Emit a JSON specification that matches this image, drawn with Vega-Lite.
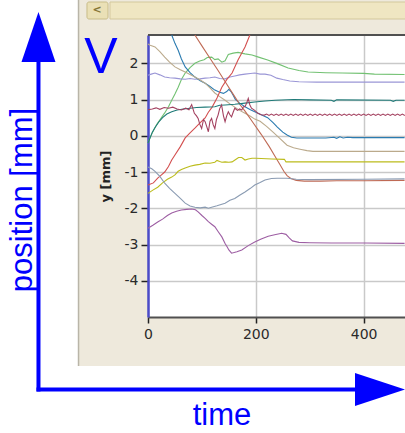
{
  "$schema": "https://vega.github.io/schema/vega-lite/v6.json",
  "autosize": "none",
  "width": 257,
  "height": 282,
  "padding": {"left": 148, "top": 35, "right": 0, "bottom": 116},
  "background": "#EEE9DC",
  "view": {"fill": "white", "stroke": null},
  "datasets": {
    "series": [
      {"s":"green","x":0,"y":-0.2},{"s":"green","x":4,"y":-0.05},{"s":"green","x":8,"y":0.08},{"s":"green","x":12,"y":0.2},{"s":"green","x":17,"y":0.33},{"s":"green","x":24,"y":0.48},{"s":"green","x":31,"y":0.63},{"s":"green","x":38,"y":0.8},{"s":"green","x":44,"y":0.98},{"s":"green","x":50,"y":1.15},{"s":"green","x":56,"y":1.34},{"s":"green","x":62,"y":1.55},{"s":"green","x":69,"y":1.73},{"s":"green","x":78,"y":1.88},{"s":"green","x":87,"y":2.0},{"s":"green","x":96,"y":2.06},{"s":"green","x":104,"y":2.1},{"s":"green","x":110,"y":2.16},{"s":"green","x":118,"y":2.17},{"s":"green","x":124,"y":2.1},{"s":"green","x":130,"y":2.12},{"s":"green","x":137,"y":2.03},{"s":"green","x":143,"y":2.07},{"s":"green","x":149,"y":2.24},{"s":"green","x":158,"y":2.28},{"s":"green","x":167,"y":2.3},{"s":"green","x":180,"y":2.26},{"s":"green","x":193,"y":2.23},{"s":"green","x":205,"y":2.17},{"s":"green","x":222,"y":2.09},{"s":"green","x":240,"y":1.99},{"s":"green","x":260,"y":1.87},{"s":"green","x":280,"y":1.8},{"s":"green","x":297,"y":1.76},{"s":"green","x":330,"y":1.74},{"s":"green","x":360,"y":1.73},{"s":"green","x":400,"y":1.72},{"s":"green","x":420,"y":1.7},{"s":"green","x":476,"y":1.69},
      {"s":"lavender","x":0,"y":1.67},{"s":"lavender","x":6,"y":1.7},{"s":"lavender","x":13,"y":1.73},{"s":"lavender","x":22,"y":1.68},{"s":"lavender","x":31,"y":1.62},{"s":"lavender","x":40,"y":1.6},{"s":"lavender","x":50,"y":1.59},{"s":"lavender","x":60,"y":1.57},{"s":"lavender","x":69,"y":1.56},{"s":"lavender","x":78,"y":1.58},{"s":"lavender","x":87,"y":1.56},{"s":"lavender","x":96,"y":1.57},{"s":"lavender","x":106,"y":1.59},{"s":"lavender","x":115,"y":1.6},{"s":"lavender","x":124,"y":1.62},{"s":"lavender","x":133,"y":1.58},{"s":"lavender","x":143,"y":1.57},{"s":"lavender","x":152,"y":1.62},{"s":"lavender","x":161,"y":1.65},{"s":"lavender","x":170,"y":1.68},{"s":"lavender","x":180,"y":1.7},{"s":"lavender","x":190,"y":1.72},{"s":"lavender","x":198,"y":1.73},{"s":"lavender","x":208,"y":1.7},{"s":"lavender","x":217,"y":1.7},{"s":"lavender","x":228,"y":1.67},{"s":"lavender","x":239,"y":1.59},{"s":"lavender","x":250,"y":1.55},{"s":"lavender","x":263,"y":1.51},{"s":"lavender","x":280,"y":1.49},{"s":"lavender","x":313,"y":1.48},{"s":"lavender","x":400,"y":1.48},{"s":"lavender","x":476,"y":1.48},
      {"s":"blue","x":44,"y":2.78},{"s":"blue","x":50,"y":2.55},{"s":"blue","x":56,"y":2.36},{"s":"blue","x":62,"y":2.12},{"s":"blue","x":69,"y":1.9},{"s":"blue","x":78,"y":1.74},{"s":"blue","x":87,"y":1.62},{"s":"blue","x":97,"y":1.52},{"s":"blue","x":106,"y":1.45},{"s":"blue","x":115,"y":1.36},{"s":"blue","x":124,"y":1.26},{"s":"blue","x":133,"y":1.2},{"s":"blue","x":140,"y":1.17},{"s":"blue","x":146,"y":1.22},{"s":"blue","x":150,"y":1.28},{"s":"blue","x":154,"y":1.22},{"s":"blue","x":158,"y":1.12},{"s":"blue","x":162,"y":1.0},{"s":"blue","x":170,"y":0.9},{"s":"blue","x":180,"y":0.8},{"s":"blue","x":190,"y":0.72},{"s":"blue","x":198,"y":0.66},{"s":"blue","x":210,"y":0.58},{"s":"blue","x":222,"y":0.5},{"s":"blue","x":232,"y":0.36},{"s":"blue","x":240,"y":0.24},{"s":"blue","x":250,"y":0.1},{"s":"blue","x":258,"y":0.02},{"s":"blue","x":266,"y":-0.04},{"s":"blue","x":276,"y":-0.06},{"s":"blue","x":330,"y":-0.06},{"s":"blue","x":345,"y":-0.04},{"s":"blue","x":350,"y":-0.07},{"s":"blue","x":356,"y":-0.03},{"s":"blue","x":362,"y":-0.06},{"s":"blue","x":370,"y":-0.04},{"s":"blue","x":380,"y":-0.05},{"s":"blue","x":476,"y":-0.05},
      {"s":"tan","x":0,"y":2.53},{"s":"tan","x":4,"y":2.5},{"s":"tan","x":13,"y":2.45},{"s":"tan","x":22,"y":2.32},{"s":"tan","x":31,"y":2.17},{"s":"tan","x":40,"y":2.03},{"s":"tan","x":50,"y":1.9},{"s":"tan","x":60,"y":1.82},{"s":"tan","x":69,"y":1.76},{"s":"tan","x":78,"y":1.69},{"s":"tan","x":87,"y":1.62},{"s":"tan","x":97,"y":1.54},{"s":"tan","x":106,"y":1.45},{"s":"tan","x":115,"y":1.32},{"s":"tan","x":124,"y":1.18},{"s":"tan","x":133,"y":1.08},{"s":"tan","x":143,"y":0.98},{"s":"tan","x":152,"y":0.88},{"s":"tan","x":161,"y":0.79},{"s":"tan","x":170,"y":0.7},{"s":"tan","x":180,"y":0.62},{"s":"tan","x":190,"y":0.54},{"s":"tan","x":198,"y":0.46},{"s":"tan","x":208,"y":0.4},{"s":"tan","x":220,"y":0.26},{"s":"tan","x":232,"y":0.1},{"s":"tan","x":245,"y":-0.08},{"s":"tan","x":258,"y":-0.26},{"s":"tan","x":270,"y":-0.33},{"s":"tan","x":282,"y":-0.37},{"s":"tan","x":295,"y":-0.41},{"s":"tan","x":306,"y":-0.43},{"s":"tan","x":476,"y":-0.43},
      {"s":"sienna","x":87,"y":2.78},{"s":"sienna","x":100,"y":2.48},{"s":"sienna","x":115,"y":2.14},{"s":"sienna","x":130,"y":1.8},{"s":"sienna","x":145,"y":1.45},{"s":"sienna","x":160,"y":1.1},{"s":"sienna","x":170,"y":0.87},{"s":"sienna","x":180,"y":0.68},{"s":"sienna","x":195,"y":0.36},{"s":"sienna","x":210,"y":0.04},{"s":"sienna","x":225,"y":-0.3},{"s":"sienna","x":235,"y":-0.55},{"s":"sienna","x":245,"y":-0.8},{"s":"sienna","x":252,"y":-0.98},{"s":"sienna","x":258,"y":-1.1},{"s":"sienna","x":265,"y":-1.18},{"s":"sienna","x":275,"y":-1.23},{"s":"sienna","x":290,"y":-1.25},{"s":"sienna","x":320,"y":-1.25},{"s":"sienna","x":350,"y":-1.24},{"s":"sienna","x":400,"y":-1.24},{"s":"sienna","x":476,"y":-1.23},
      {"s":"red","x":0,"y":-1.36},{"s":"red","x":10,"y":-1.3},{"s":"red","x":18,"y":-1.17},{"s":"red","x":25,"y":-1.08},{"s":"red","x":31,"y":-1.0},{"s":"red","x":38,"y":-0.85},{"s":"red","x":44,"y":-0.67},{"s":"red","x":50,"y":-0.53},{"s":"red","x":60,"y":-0.3},{"s":"red","x":69,"y":-0.06},{"s":"red","x":78,"y":0.08},{"s":"red","x":87,"y":0.21},{"s":"red","x":96,"y":0.35},{"s":"red","x":106,"y":0.49},{"s":"red","x":112,"y":0.65},{"s":"red","x":119,"y":0.79},{"s":"red","x":128,"y":1.04},{"s":"red","x":137,"y":1.34},{"s":"red","x":146,"y":1.55},{"s":"red","x":156,"y":1.73},{"s":"red","x":167,"y":2.09},{"s":"red","x":180,"y":2.45},{"s":"red","x":189,"y":2.78},
      {"s":"teal","x":0,"y":-0.2},{"s":"teal","x":4,"y":-0.05},{"s":"teal","x":8,"y":0.1},{"s":"teal","x":14,"y":0.25},{"s":"teal","x":20,"y":0.38},{"s":"teal","x":27,"y":0.5},{"s":"teal","x":35,"y":0.6},{"s":"teal","x":44,"y":0.66},{"s":"teal","x":54,"y":0.71},{"s":"teal","x":66,"y":0.74},{"s":"teal","x":78,"y":0.76},{"s":"teal","x":90,"y":0.78},{"s":"teal","x":106,"y":0.79},{"s":"teal","x":124,"y":0.8},{"s":"teal","x":133,"y":0.84},{"s":"teal","x":143,"y":0.85},{"s":"teal","x":161,"y":0.87},{"s":"teal","x":180,"y":0.9},{"s":"teal","x":198,"y":0.93},{"s":"teal","x":217,"y":0.96},{"s":"teal","x":236,"y":0.98},{"s":"teal","x":270,"y":1.0},{"s":"teal","x":300,"y":0.99},{"s":"teal","x":340,"y":0.98},{"s":"teal","x":345,"y":0.95},{"s":"teal","x":350,"y":0.99},{"s":"teal","x":450,"y":0.98},{"s":"teal","x":455,"y":0.95},{"s":"teal","x":460,"y":0.98},{"s":"teal","x":476,"y":0.98},
      {"s":"maroon","x":0,"y":0.72},{"s":"maroon","x":8,"y":0.74},{"s":"maroon","x":15,"y":0.77},{"s":"maroon","x":22,"y":0.73},{"s":"maroon","x":30,"y":0.78},{"s":"maroon","x":38,"y":0.76},{"s":"maroon","x":46,"y":0.79},{"s":"maroon","x":54,"y":0.74},{"s":"maroon","x":62,"y":0.71},{"s":"maroon","x":70,"y":0.76},{"s":"maroon","x":76,"y":0.72},{"s":"maroon","x":81,"y":0.86},{"s":"maroon","x":86,"y":0.62},{"s":"maroon","x":90,"y":0.55},{"s":"maroon","x":93,"y":0.48},{"s":"maroon","x":96,"y":0.32},{"s":"maroon","x":99.5,"y":0.2},{"s":"maroon","x":103,"y":0.45},{"s":"maroon","x":106,"y":0.39},{"s":"maroon","x":109,"y":0.25},{"s":"maroon","x":112,"y":0.11},{"s":"maroon","x":115,"y":0.4},{"s":"maroon","x":118,"y":0.48},{"s":"maroon","x":121,"y":0.3},{"s":"maroon","x":124,"y":0.2},{"s":"maroon","x":127,"y":0.45},{"s":"maroon","x":130,"y":0.57},{"s":"maroon","x":133,"y":0.75},{"s":"maroon","x":136.5,"y":0.85},{"s":"maroon","x":140,"y":0.55},{"s":"maroon","x":143,"y":0.39},{"s":"maroon","x":146,"y":0.55},{"s":"maroon","x":149,"y":0.66},{"s":"maroon","x":152,"y":0.58},{"s":"maroon","x":155,"y":0.52},{"s":"maroon","x":158,"y":0.65},{"s":"maroon","x":161,"y":0.76},{"s":"maroon","x":166,"y":0.7},{"s":"maroon","x":170,"y":0.74},{"s":"maroon","x":174,"y":0.71},{"s":"maroon","x":177,"y":0.8},{"s":"maroon","x":180,"y":0.8},{"s":"maroon","x":183,"y":0.9},{"s":"maroon","x":186,"y":1.03},{"s":"maroon","x":189,"y":0.85},{"s":"maroon","x":192,"y":0.76},{"s":"maroon","x":198,"y":0.7},{"s":"maroon","x":204,"y":0.62},{"s":"maroon","x":210,"y":0.58},{"s":"maroon","x":216,"y":0.57},
      {"s":"maroon","x":220,"y":0.6},{"s":"maroon","x":224.5,"y":0.56},{"s":"maroon","x":229,"y":0.6},{"s":"maroon","x":233.5,"y":0.56},{"s":"maroon","x":238,"y":0.6},{"s":"maroon","x":242.5,"y":0.56},{"s":"maroon","x":247,"y":0.6},{"s":"maroon","x":251.5,"y":0.56},{"s":"maroon","x":256,"y":0.6},{"s":"maroon","x":260.5,"y":0.56},{"s":"maroon","x":265,"y":0.6},{"s":"maroon","x":269.5,"y":0.56},{"s":"maroon","x":274,"y":0.6},{"s":"maroon","x":278.5,"y":0.56},{"s":"maroon","x":283,"y":0.6},{"s":"maroon","x":287.5,"y":0.56},{"s":"maroon","x":292,"y":0.6},{"s":"maroon","x":296.5,"y":0.56},{"s":"maroon","x":301,"y":0.6},{"s":"maroon","x":305.5,"y":0.56},{"s":"maroon","x":310,"y":0.6},{"s":"maroon","x":314.5,"y":0.56},{"s":"maroon","x":319,"y":0.6},{"s":"maroon","x":323.5,"y":0.56},{"s":"maroon","x":328,"y":0.6},{"s":"maroon","x":332.5,"y":0.56},{"s":"maroon","x":337,"y":0.6},{"s":"maroon","x":341.5,"y":0.56},{"s":"maroon","x":346,"y":0.6},{"s":"maroon","x":350.5,"y":0.56},{"s":"maroon","x":355,"y":0.6},{"s":"maroon","x":359.5,"y":0.56},{"s":"maroon","x":364,"y":0.6},{"s":"maroon","x":368.5,"y":0.56},{"s":"maroon","x":373,"y":0.6},{"s":"maroon","x":377.5,"y":0.56},{"s":"maroon","x":382,"y":0.6},{"s":"maroon","x":386.5,"y":0.56},{"s":"maroon","x":391,"y":0.6},{"s":"maroon","x":395.5,"y":0.56},{"s":"maroon","x":400,"y":0.6},{"s":"maroon","x":404.5,"y":0.56},{"s":"maroon","x":409,"y":0.6},{"s":"maroon","x":413.5,"y":0.56},{"s":"maroon","x":418,"y":0.6},{"s":"maroon","x":422.5,"y":0.56},{"s":"maroon","x":427,"y":0.6},{"s":"maroon","x":431.5,"y":0.56},{"s":"maroon","x":436,"y":0.6},{"s":"maroon","x":440.5,"y":0.56},{"s":"maroon","x":445,"y":0.6},{"s":"maroon","x":449.5,"y":0.56},{"s":"maroon","x":454,"y":0.6},{"s":"maroon","x":458.5,"y":0.56},{"s":"maroon","x":463,"y":0.6},{"s":"maroon","x":467.5,"y":0.56},{"s":"maroon","x":472,"y":0.6},{"s":"maroon","x":476.5,"y":0.56},
      {"s":"yellow","x":0,"y":-1.59},{"s":"yellow","x":9,"y":-1.5},{"s":"yellow","x":18,"y":-1.42},{"s":"yellow","x":27,"y":-1.3},{"s":"yellow","x":36,"y":-1.2},{"s":"yellow","x":44,"y":-1.14},{"s":"yellow","x":50,"y":-1.08},{"s":"yellow","x":56,"y":-0.98},{"s":"yellow","x":62,"y":-0.93},{"s":"yellow","x":69,"y":-0.89},{"s":"yellow","x":78,"y":-0.84},{"s":"yellow","x":87,"y":-0.81},{"s":"yellow","x":96,"y":-0.79},{"s":"yellow","x":106,"y":-0.75},{"s":"yellow","x":115,"y":-0.76},{"s":"yellow","x":124,"y":-0.73},{"s":"yellow","x":128,"y":-0.68},{"s":"yellow","x":133,"y":-0.71},{"s":"yellow","x":137,"y":-0.73},{"s":"yellow","x":143,"y":-0.72},{"s":"yellow","x":150,"y":-0.73},{"s":"yellow","x":156,"y":-0.72},{"s":"yellow","x":162,"y":-0.66},{"s":"yellow","x":168,"y":-0.6},{"s":"yellow","x":174,"y":-0.6},{"s":"yellow","x":180,"y":-0.67},{"s":"yellow","x":186,"y":-0.64},{"s":"yellow","x":193,"y":-0.62},{"s":"yellow","x":200,"y":-0.62},{"s":"yellow","x":230,"y":-0.64},{"s":"yellow","x":253,"y":-0.65},{"s":"yellow","x":256,"y":-0.72},{"s":"yellow","x":476,"y":-0.72},
      {"s":"gray","x":0,"y":-0.86},{"s":"gray","x":7,"y":-0.91},{"s":"gray","x":13,"y":-0.98},{"s":"gray","x":22,"y":-1.12},{"s":"gray","x":31,"y":-1.31},{"s":"gray","x":40,"y":-1.45},{"s":"gray","x":50,"y":-1.59},{"s":"gray","x":60,"y":-1.73},{"s":"gray","x":69,"y":-1.86},{"s":"gray","x":78,"y":-1.94},{"s":"gray","x":87,"y":-1.97},{"s":"gray","x":97,"y":-1.99},{"s":"gray","x":106,"y":-1.97},{"s":"gray","x":112,"y":-2.0},{"s":"gray","x":118,"y":-1.97},{"s":"gray","x":128,"y":-1.93},{"s":"gray","x":143,"y":-1.86},{"s":"gray","x":152,"y":-1.78},{"s":"gray","x":161,"y":-1.73},{"s":"gray","x":170,"y":-1.64},{"s":"gray","x":180,"y":-1.55},{"s":"gray","x":190,"y":-1.45},{"s":"gray","x":198,"y":-1.36},{"s":"gray","x":208,"y":-1.29},{"s":"gray","x":217,"y":-1.22},{"s":"gray","x":229,"y":-1.18},{"s":"gray","x":240,"y":-1.17},{"s":"gray","x":258,"y":-1.17},{"s":"gray","x":275,"y":-1.2},{"s":"gray","x":300,"y":-1.21},{"s":"gray","x":400,"y":-1.2},{"s":"gray","x":476,"y":-1.19},
      {"s":"purple","x":0,"y":-2.55},{"s":"purple","x":9,"y":-2.47},{"s":"purple","x":18,"y":-2.38},{"s":"purple","x":27,"y":-2.3},{"s":"purple","x":36,"y":-2.2},{"s":"purple","x":44,"y":-2.13},{"s":"purple","x":53,"y":-2.08},{"s":"purple","x":62,"y":-2.05},{"s":"purple","x":72,"y":-2.03},{"s":"purple","x":81,"y":-2.02},{"s":"purple","x":88,"y":-2.04},{"s":"purple","x":93,"y":-2.1},{"s":"purple","x":100,"y":-2.2},{"s":"purple","x":106,"y":-2.28},{"s":"purple","x":112,"y":-2.37},{"s":"purple","x":118,"y":-2.44},{"s":"purple","x":124,"y":-2.51},{"s":"purple","x":130,"y":-2.64},{"s":"purple","x":137,"y":-2.79},{"s":"purple","x":143,"y":-2.97},{"s":"purple","x":147,"y":-3.07},{"s":"purple","x":150,"y":-3.15},{"s":"purple","x":155,"y":-3.24},{"s":"purple","x":165,"y":-3.2},{"s":"purple","x":174,"y":-3.15},{"s":"purple","x":186,"y":-3.03},{"s":"purple","x":198,"y":-2.93},{"s":"purple","x":210,"y":-2.85},{"s":"purple","x":223,"y":-2.77},{"s":"purple","x":235,"y":-2.73},{"s":"purple","x":248,"y":-2.69},{"s":"purple","x":256,"y":-2.72},{"s":"purple","x":262,"y":-2.82},{"s":"purple","x":268,"y":-2.9},{"s":"purple","x":280,"y":-2.94},{"s":"purple","x":300,"y":-2.95},{"s":"purple","x":340,"y":-2.96},{"s":"purple","x":400,"y":-2.96},{"s":"purple","x":476,"y":-2.97}
    ],
    "whites": [
      {"x":-300,"x2":-129.9,"y":4.5,"y2":-9},
      {"x":-300,"x2":500,"y":-6.352,"y2":-9}
    ],
    "winEdge": [{"x":-128.9,"x2":-128.9,"y":3.8,"y2":-6.352}],
    "topBorder": [{"x":0,"x2":476.8,"y":2.78,"y2":2.78}],
    "sbButton": [{"x":-113.2,"x2":-74.2,"y":3.69,"y2":3.221}],
    "sbTrack": [{"x":-70.5,"x2":490,"y":3.69,"y2":3.221}],
    "sbGlyph": [{"x":-94.6,"y":3.456,"text":"<"}],
    "arrowLines": [
      {"x":-203.2,"x2":-203.2,"y":-7.0,"y2":2.09},
      {"x":-203.2,"x2":393.3,"y":-7.0,"y2":-7.0}
    ],
    "headUp": [{"x":-203.2,"y":2.725}],
    "headRight": [{"x":430.4,"y":-7.0}],
    "bigV": [{"x":-87.2,"y":1.732,"text":"V"}],
    "timeLabel": [{"x":137.3,"y":-7.98,"text":"time"}],
    "posLabel": [{"x":-215.2,"y":-1.772,"text":"position [mm]"}]
  },
  "encoding": {
    "x": {
      "field": "x", "type": "quantitative",
      "scale": {"domain": [0, 476.8], "nice": false, "zero": false},
      "axis": {
        "values": [0, 200, 400], "title": null, "tickSize": 6, "labelPadding": 4,
        "labelFlush": false, "domainColor": "#505050", "domainWidth": 2, "grid": true,
        "gridColor": "#C9C9C9", "gridWidth": 1.5, "tickColor": "#222222", "tickWidth": 1.5,
        "labelFont": "DejaVu Sans", "labelFontSize": 14, "labelColor": "#2A2A2A"
      }
    },
    "y": {
      "field": "y", "type": "quantitative",
      "scale": {"domain": [-5, 2.78], "nice": false, "zero": false},
      "axis": {
        "values": [-4, -3, -2, -1, 0, 1, 2], "title": "y [mm]", "tickSize": 7, "labelPadding": 3,
        "titlePadding": 12, "domainColor": "#4B4BC8", "domainWidth": 2.5, "grid": true,
        "gridColor": "#C9C9C9", "gridWidth": 1.5, "tickColor": "#222222", "tickWidth": 1.5,
        "labelFont": "DejaVu Sans", "labelFontSize": 14, "labelColor": "#2A2A2A",
        "titleFont": "DejaVu Sans", "titleFontSize": 13, "titleFontWeight": "bold", "titleColor": "#222222",
        "labelExpr": "datum.value < 0 ? '-' + abs(datum.value) : datum.label"
      }
    }
  },
  "layer": [
    {"data": {"name": "whites"}, "mark": {"type": "rect", "fill": "white", "strokeWidth": 0},
     "encoding": {"x2": {"field": "x2"}, "y2": {"field": "y2"}}},
    {"data": {"name": "winEdge"}, "mark": {"type": "rule", "color": "#B9B5A8", "strokeWidth": 1.5},
     "encoding": {"x2": {"field": "x2"}, "y2": {"field": "y2"}}},
    {"data": {"name": "sbTrack"}, "mark": {"type": "rect", "fill": "#EFE6C2", "stroke": "#D3C89C", "strokeWidth": 1},
     "encoding": {"x2": {"field": "x2"}, "y2": {"field": "y2"}}},
    {"data": {"name": "sbButton"}, "mark": {"type": "rect", "fill": "#EAE0B6", "stroke": "#C8BC88", "strokeWidth": 1, "cornerRadius": 2},
     "encoding": {"x2": {"field": "x2"}, "y2": {"field": "y2"}}},
    {"data": {"name": "sbGlyph"}, "mark": {"type": "text", "font": "DejaVu Sans", "fontSize": 11, "fontWeight": "bold", "color": "#857535", "baseline": "middle", "align": "center"},
     "encoding": {"text": {"field": "text"}}},
    {"data": {"name": "topBorder"}, "mark": {"type": "rule", "color": "#505050", "strokeWidth": 2},
     "encoding": {"x2": {"field": "x2"}, "y2": {"field": "y2"}}},
    {"data": {"name": "series"}, "mark": {"type": "line", "strokeWidth": 1.1},
     "encoding": {
       "color": {"field": "s", "type": "nominal", "legend": null,
         "scale": {
           "domain": ["green","lavender","blue","tan","sienna","red","teal","maroon","yellow","gray","purple"],
           "range": ["#72C172","#9A96D6","#2B7BB0","#BBAA8C","#BF6A55","#D34F4F","#1F7A78","#A3405F","#BCBC1C","#8A9BB2","#9D5EA3"]
         }}
     }},
    {"data": {"name": "arrowLines"}, "mark": {"type": "rule", "color": "#0000FF", "strokeWidth": 4, "strokeCap": "square"},
     "encoding": {"x2": {"field": "x2"}, "y2": {"field": "y2"}}},
    {"data": {"name": "headUp"}, "mark": {"type": "point", "shape": "M0,-1L0.68,1L-0.68,1Z", "size": 2500, "filled": true, "color": "#0000FF", "opacity": 1, "strokeWidth": 0}},
    {"data": {"name": "headRight"}, "mark": {"type": "point", "shape": "M1,0L-1,0.66L-1,-0.66Z", "size": 2500, "filled": true, "color": "#0000FF", "opacity": 1, "strokeWidth": 0}},
    {"data": {"name": "bigV"}, "mark": {"type": "text", "font": "Liberation Sans", "fontSize": 50, "color": "#0000FF", "align": "center", "baseline": "alphabetic"},
     "encoding": {"text": {"field": "text"}}},
    {"data": {"name": "timeLabel"}, "mark": {"type": "text", "font": "Liberation Sans", "fontSize": 31, "color": "#0000FF", "align": "center", "baseline": "alphabetic"},
     "encoding": {"text": {"field": "text"}}},
    {"data": {"name": "posLabel"}, "mark": {"type": "text", "font": "Liberation Sans", "fontSize": 31, "color": "#0000FF", "align": "center", "baseline": "alphabetic", "angle": 270},
     "encoding": {"text": {"field": "text"}}}
  ]
}
